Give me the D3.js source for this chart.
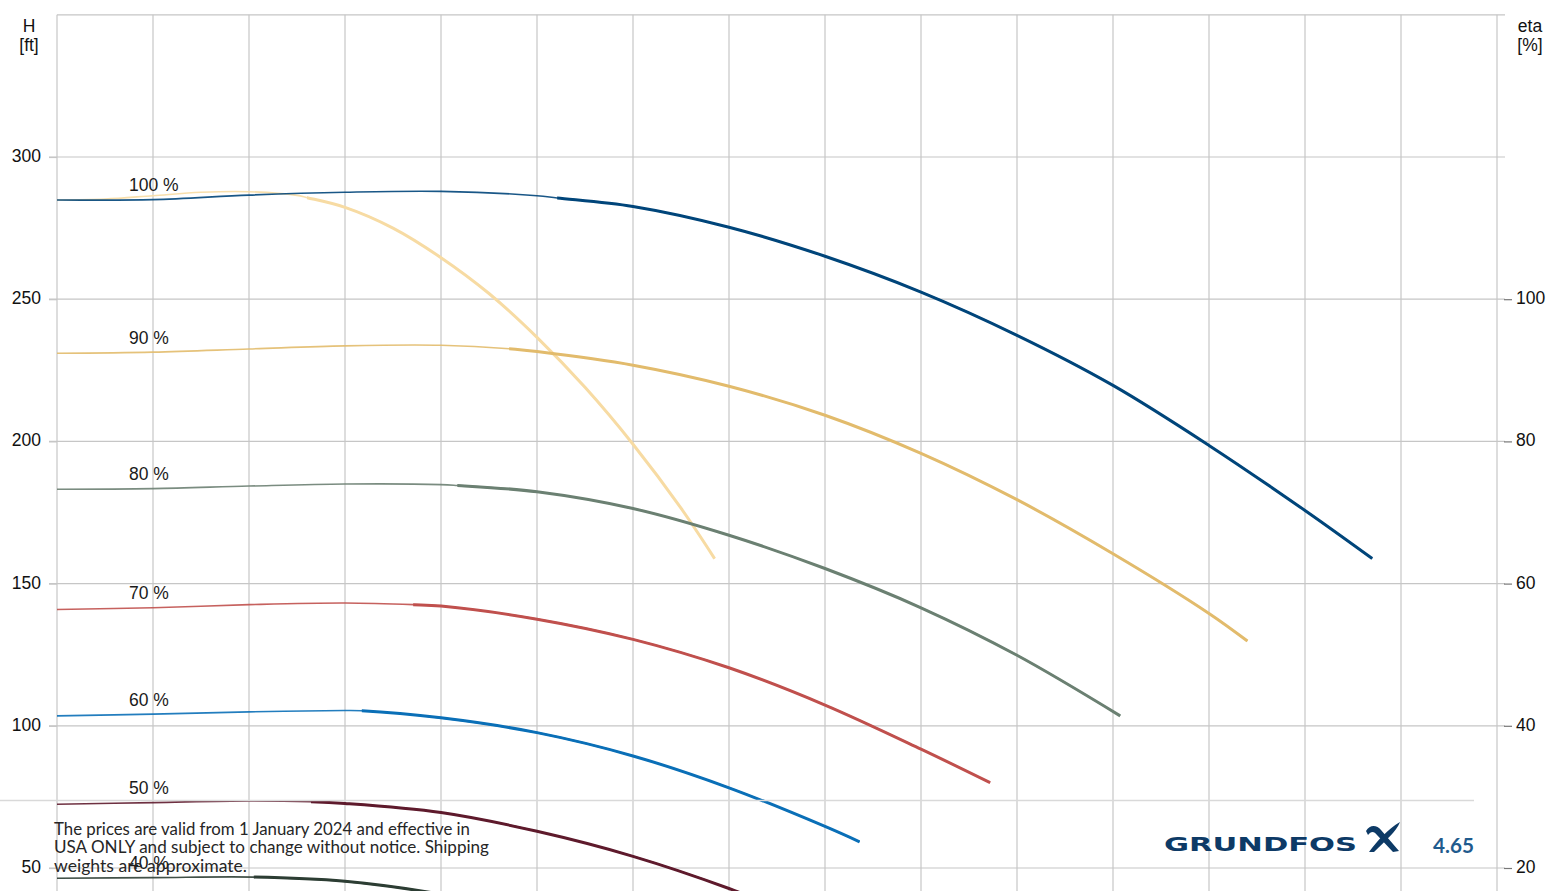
<!DOCTYPE html>
<html><head><meta charset="utf-8">
<script src="https://cdn.jsdelivr.net/npm/d3@7"></script>
<style>html,body{margin:0;padding:0;background:#fff;overflow:hidden} svg{display:block}</style>
</head><body><svg id="chart" width="1547" height="891"></svg>
<script>
// ---- data ----
const speedLabels = ["100 %", "90 %", "80 %", "70 %", "60 %", "50 %", "40 %"];
const q100 = [0, 20, 40, 60, 80, 100, 104.2, 120, 140, 160, 180, 200, 220, 240, 260, 274];
const h100 = [284.9, 285.0, 286.6, 287.6, 287.9, 286.4, 285.6, 282.6, 275.3, 265.1, 252.5, 237.3, 219.7, 198.6, 175.7, 158.8];
const q90 = [0, 20, 40, 60, 80, 94.2, 100, 120, 140, 160, 180, 200, 220, 240, 248];
const h90 = [231.0, 231.4, 232.5, 233.6, 233.8, 232.6, 231.6, 226.8, 219.4, 209.2, 195.8, 179.5, 160.5, 139.5, 129.8];
const q80 = [0, 20, 40, 60, 80, 83.4, 100, 120, 140, 160, 180, 200, 221.5];
const h80 = [183.2, 183.4, 184.3, 185.0, 184.8, 184.5, 182.3, 176.4, 167.0, 155.3, 141.5, 124.8, 103.5];
const q70 = [0, 20, 40, 60, 74.2, 80, 100, 120, 140, 160, 180, 194.4];
const h70 = [140.9, 141.5, 142.6, 143.2, 142.6, 142.1, 137.5, 130.4, 120.4, 107.3, 91.8, 80.0];
const q60 = [0, 20, 40, 60, 63.5, 80, 100, 120, 140, 160, 167.2];
const h60 = [103.5, 104.1, 104.9, 105.4, 105.3, 102.8, 97.6, 89.4, 78.2, 64.6, 59.2];
const q50 = [0, 20, 40, 52.9, 60, 80, 100, 120, 140, 146];
const h50 = [72.4, 73.0, 73.6, 73.3, 72.7, 69.5, 62.9, 54.1, 42.8, 38.8];
const q40 = [0, 20, 41, 60, 80, 100, 112];
const h40 = [46.4, 46.6, 46.8, 45.3, 40.8, 34.0, 29.0];
// operating range (thick line) starts at this flow, per speed
const thickFrom = [104.2, 94.2, 83.4, 74.2, 63.5, 52.9, 41];
// light curve
const qLight = [0, 10, 20, 30, 40, 50, 52.1, 60, 70, 80, 90, 100, 110, 120, 130, 137];
const hLight = [284.9, 285.2, 286.4, 287.6, 287.8, 286.5, 285.7, 282.3, 275.0, 264.6, 252.0, 236.6, 219.0, 199.0, 176.5, 158.8];
const lightThickFrom = 52.1;
// axes
const qGrid = [0, 20, 40, 60, 80, 100, 120, 140, 160, 180, 200, 220, 240, 260, 280, 300];
const hTicks = [50, 100, 150, 200, 250, 300];
const etaTicks = [20, 40, 60, 80, 100];
const footerLines = [
  "The prices are valid from 1 January 2024 and effective in",
  "USA ONLY and subject to change without notice. Shipping",
  "weights are approximate."
];

// ---- styles ----
const colors = ["#00457a", "#e2bb6c", "#6b8072", "#c0504d", "#0a6fb7", "#5e1a2c", "#2c3d33"];
const lightColor = "#f7dba3";
const gridColor = "#c6c6c6";
const axisFont = "'Liberation Sans', Arial, sans-serif";

const svg = d3.select("#chart");
const x = d3.scaleLinear().domain([0, 300]).range([57, 1497]);
const y = d3.scaleLinear().domain([0, 350]).range([1010.2, 14.8]);
const yEta = d3.scaleLinear().domain([0, 140]).range([1010.2, 14.8]);

// grid
const grid = svg.append("g");
grid.selectAll("line.v").data(qGrid).join("line")
  .attr("x1", d => x(d)).attr("x2", d => x(d))
  .attr("y1", y(350)).attr("y2", 900)
  .attr("stroke", gridColor).attr("stroke-width", 1.2);
grid.selectAll("line.h").data(hTicks).join("line")
  .attr("x1", 49).attr("x2", 1505)
  .attr("y1", d => y(d)).attr("y2", d => y(d))
  .attr("stroke", gridColor).attr("stroke-width", 1.2);
grid.append("line").attr("x1", x(0)).attr("x2", 1505)
  .attr("y1", y(350)).attr("y2", y(350))
  .attr("stroke", gridColor).attr("stroke-width", 1.2);

// left axis
const gl = svg.append("g").attr("transform", `translate(${x(0)},0)`)
  .attr("font-family", axisFont)
  .call(d3.axisLeft(y).tickValues(hTicks).tickSize(8).tickPadding(8));
gl.select(".domain").remove();
gl.selectAll(".tick line").attr("stroke", gridColor).attr("stroke-width", 1.2);
gl.selectAll(".tick text").attr("font-size", 17.5).attr("font-family", axisFont)
  .attr("fill", "#111").attr("dy", "0.26em");

// right axis
const gr = svg.append("g").attr("transform", `translate(${x(300)},0)`)
  .attr("font-family", axisFont)
  .call(d3.axisRight(yEta).tickValues(etaTicks).tickSize(15).tickPadding(4));
gr.select(".domain").remove();
gr.selectAll(".tick line").attr("x1", 7).attr("stroke", "#777").attr("stroke-width", 1.2);
gr.selectAll(".tick text").attr("font-size", 17.5).attr("font-family", axisFont)
  .attr("fill", "#111").attr("dy", "0.26em");

// axis titles
const titles = [["H", 29, 31.5], ["[ft]", 29, 51], ["eta", 1530, 31.5], ["[%]", 1530, 51]];
svg.selectAll("text.title").data(titles).join("text")
  .attr("x", d => d[1]).attr("y", d => d[2]).attr("text-anchor", "middle")
  .attr("font-size", 17.5).attr("font-family", axisFont).attr("fill", "#111")
  .text(d => d[0]);

// curves
const line = d3.line().x(d => x(d[0])).y(d => y(d[1])).curve(d3.curveCatmullRom.alpha(0.5));
function drawCurve(qs, hs, split, color) {
  const pts = qs.map((q, i) => [q, hs[i]]);
  const full = line(pts);
  const id = "c" + Math.random().toString(36).slice(2);
  svg.append("clipPath").attr("id", id).append("rect")
    .attr("x", x(split)).attr("y", 0).attr("width", 2000).attr("height", 1200);
  svg.append("path").attr("d", full).attr("fill", "none")
    .attr("stroke", color).attr("stroke-width", 1.6).attr("stroke-opacity", 0.9);
  svg.append("path").attr("d", full).attr("fill", "none").attr("clip-path", `url(#${id})`)
    .attr("stroke", color).attr("stroke-width", 3);
}
drawCurve(qLight, hLight, lightThickFrom, lightColor);
const qs = [q100, q90, q80, q70, q60, q50, q40];
const hs = [h100, h90, h80, h70, h60, h50, h40];
qs.forEach((q, i) => drawCurve(q, hs[i], thickFrom[i], colors[i]));

// curve labels
svg.selectAll("text.lbl").data(speedLabels).join("text")
  .attr("x", 129).attr("y", (d, i) => y(hs[i][1]) - 8.5)
  .attr("font-size", 17.5).attr("font-family", axisFont).attr("fill", "#1a1a1a")
  .text(d => d);

// footer
svg.append("line").attr("x1", 0).attr("x2", 1474).attr("y1", 800.5).attr("y2", 800.5)
  .attr("stroke", "#d9d9d9").attr("stroke-width", 1.4);
const footerWidths = [416, 435, 193];
svg.selectAll("text.foot").data(footerLines).join("text")
  .attr("x", 54).attr("y", (d, i) => 835 + i * 18.3)
  .attr("font-size", 16.5).attr("font-family", "Lato, 'Open Sans', sans-serif")
  .attr("fill", "#262626")
  .attr("textLength", (d, i) => footerWidths[i]).attr("lengthAdjust", "spacingAndGlyphs")
  .text(d => d);

// logo
svg.append("text").attr("x", 1164).attr("y", 851)
  .attr("font-size", 19.5).attr("font-weight", 900).attr("font-family", "'DejaVu Sans', sans-serif")
  .attr("fill", "#0d3a66").attr("textLength", 193).attr("lengthAdjust", "spacingAndGlyphs")
  .text("GRUNDFOS");
svg.append("path")
  .attr("d", "M1366,831 C1370,824 1377,825 1381,830 L1399,851 L1393,852 L1377,835 C1374,831 1371,831 1368,835 Z")
  .attr("fill", "#0d3a66");
svg.append("path")
  .attr("d", "M1400,822 C1396,832 1386,840 1374,852 L1369,852 C1378,840 1388,829 1400,822 Z")
  .attr("fill", "#0d3a66");
svg.append("text").attr("x", 1433).attr("y", 852.5)
  .attr("font-size", 21).attr("font-weight", 700).attr("font-family", "Lato, sans-serif")
  .attr("fill", "#1f5b8e").attr("textLength", 41).attr("lengthAdjust", "spacingAndGlyphs")
  .text("4.65");
</script>
</body></html>
